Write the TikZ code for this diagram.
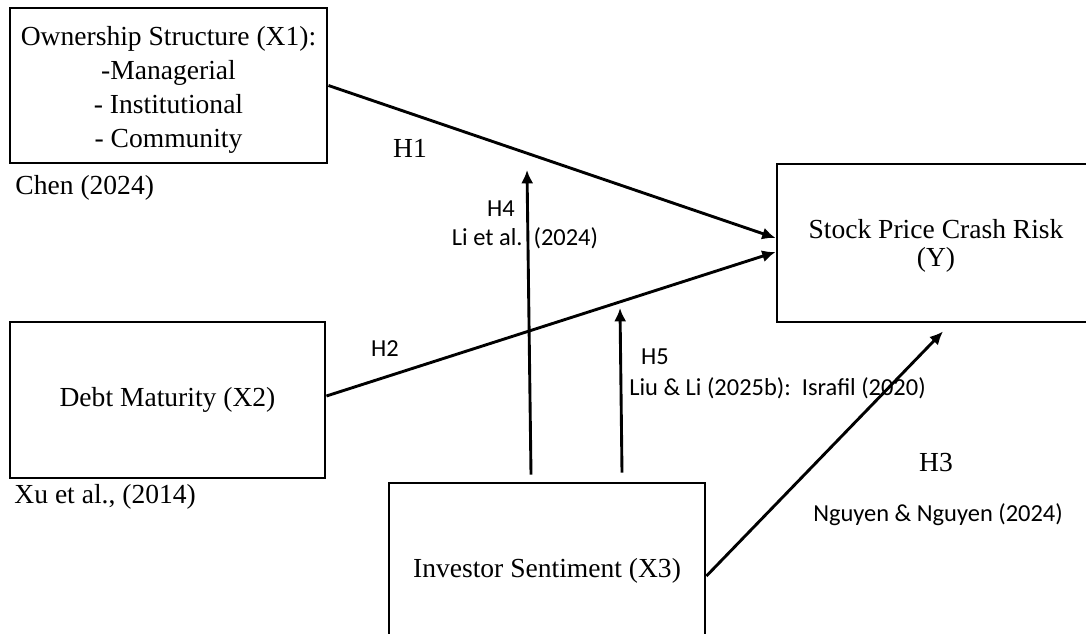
\documentclass[tikz,border=0pt]{standalone}
\usepackage{fontspec}
\setmainfont{Liberation Serif}
\newfontfamily\calibri{Carlito}
\usetikzlibrary{positioning,arrows.meta,calc}

\begin{document}
\begin{tikzpicture}[
        x=0.45pt, y=-0.45pt,
        var/.style={rectangle, draw=black, line width=1.3pt, inner sep=0pt, align=center, font=\fontsize{12.4}{15.3}\selectfont},
        ref/.style={inner sep=0pt, font=\fontsize{12.4}{14}\selectfont},
        hyp/.style={inner sep=0pt, font=\calibri\fontsize{11}{13}\selectfont},
        link/.style={-{Latex[length=6pt,width=5.5pt]}, line width=1.3pt}
    ]
    \useasboundingbox (0,0) rectangle (1086,634);
    \clip (0,0) rectangle (1086,634);

    \node[var, minimum width=317*0.45pt, minimum height=155*0.45pt] (x1) at (168.5,85.5)
        {\rule{0pt}{13pt}Ownership Structure (X1):\\-Managerial\\- Institutional\\- Community};
    \node[var, minimum width=315*0.45pt, minimum height=156*0.45pt] (x2) at (167.5,400) {Debt Maturity (X2)};
    \node[var, minimum width=316*0.45pt, minimum height=176*0.45pt] (x3) at (547,571) {Investor Sentiment (X3)};
    \node[var, minimum width=318*0.45pt, minimum height=158*0.45pt, font=\fontsize{12.4}{12.4}\selectfont] (y) at (936,243)
        {\rule{0pt}{11.2pt}Stock Price Crash Risk\\(Y)};

    \node[ref, anchor=west] (chen) at (15,188) {Chen (2024)};
    \node[ref, anchor=west] (xu)   at (14,497) {Xu et al., (2014)};

    \node[ref] (h1) at (410,148) {H1};
    \node[hyp] (h2) at (385,349) {H2};
    \node[ref] (h3) at (936,463) {H3};
    \node[hyp] (h4) at (501,209) {H4};
    \node[hyp] (h5) at (655,357) {H5};
    \node[hyp] (h4ref) at (525,238) {Li et al.\ \ (2024)};
    \node[hyp] (h5ref) at (777.5,388) {Liu \& Li (2025b):\ \ Israfil (2020)};
    \node[hyp] (h3ref) at (938,515) {Nguyen \& Nguyen (2024)};

    \coordinate (h4top) at (527,170);
    \coordinate (h5top) at (620,308);

    \draw[link] (x1.east) -- ($(y.west)+(0,-5)$);
    \draw[link] ($(x2.east)+(0,-4)$) -- ($(y.west)+(0,9)$);
    \draw[link] ($(x3.east)+(0,5)$) -- ($(y.south)+(7,8)$);
    \draw[link] ($(x3.north)+(-16,-7)$) -- (h4top);
    \draw[link] ($(x3.north)+(75,-9)$) -- (h5top);
\end{tikzpicture}
\end{document}
